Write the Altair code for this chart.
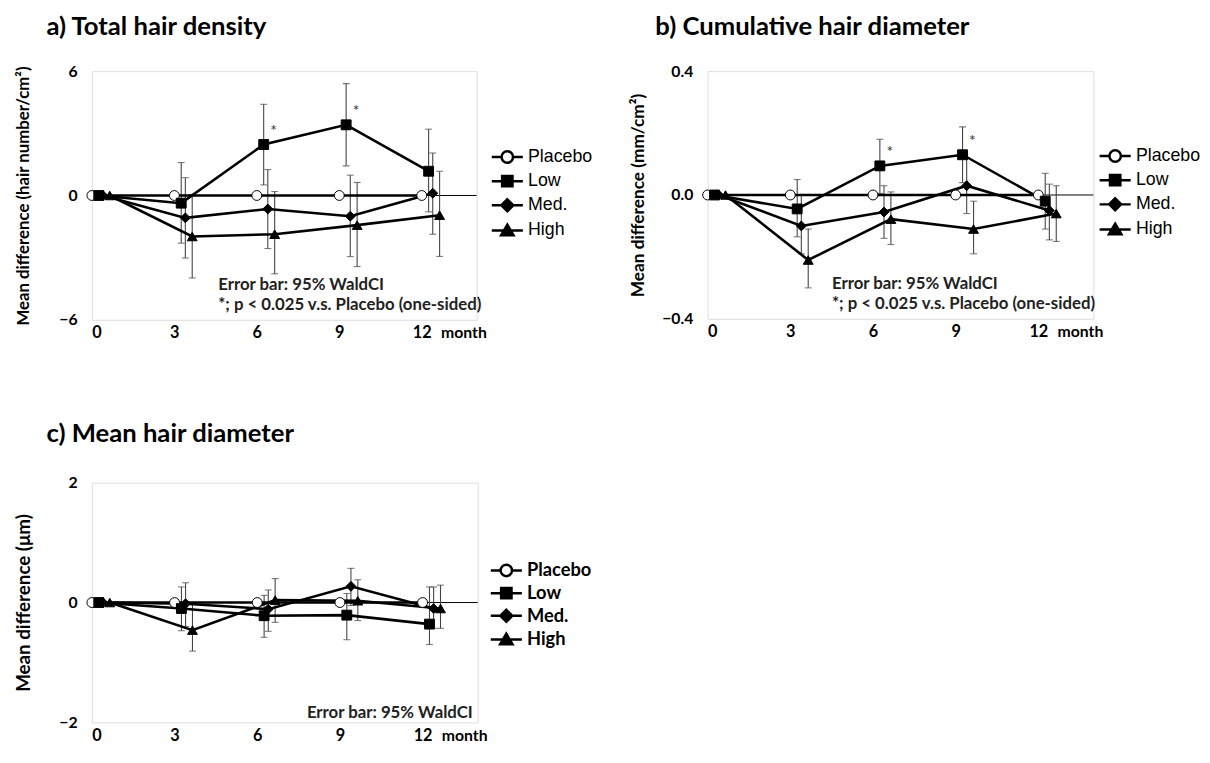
import altair as alt
import pandas as pd

months = [0, 3, 6, 9, 12]
series = ["Placebo", "Low", "Med.", "High"]
x_offsets = [0.0, 0.25, 0.4, 0.65]
fills = ["white", "black", "black", "black"]
shapes = ["circle", "square", "diamond", "triangle-up"]

# ---- a) Total hair density
a_placebo = [0, 0, 0, 0, 0]
a_low = [0, -0.37, 2.46, 3.41, 1.17]
a_low_lo = [None, -2.30, 0.51, 1.43, -0.79]
a_low_hi = [None, 1.59, 4.40, 5.40, 3.20]
a_med = [0, -1.08, -0.65, -1.0, 0.11]
a_med_lo = [None, -3.02, -2.56, -2.95, -1.87]
a_med_hi = [None, 0.86, 1.25, 0.98, 2.05]
a_high = [0, -1.98, -1.87, -1.43, -0.95]
a_high_lo = [None, -3.98, -3.78, -3.43, -2.94]
a_high_hi = [None, 0.05, 0.19, 0.63, 1.17]
a_low_star = [0, 0, 1, 1, 0]

# ---- b) Cumulative hair diameter
b_placebo = [0, 0, 0, 0, 0]
b_low = [0, -0.045, 0.094, 0.13, -0.02]
b_low_lo = [None, -0.135, 0.005, 0.04, -0.11]
b_low_hi = [None, 0.05, 0.18, 0.22, 0.07]
b_med = [0, -0.10, -0.055, 0.03, -0.05]
b_med_lo = [None, -0.19, -0.14, -0.06, -0.145]
b_med_hi = [None, 0.0, 0.03, 0.12, 0.035]
b_high = [0, -0.21, -0.078, -0.11, -0.06]
b_high_lo = [None, -0.30, -0.16, -0.19, -0.15]
b_high_hi = [None, -0.11, 0.01, -0.02, 0.03]
b_low_star = [0, 0, 1, 1, 0]

# ---- c) Mean hair diameter
c_placebo = [0, 0, 0, 0, 0]
c_low = [0, -0.10, -0.22, -0.21, -0.36]
c_low_lo = [None, -0.47, -0.58, -0.62, -0.70]
c_low_hi = [None, 0.26, 0.12, 0.15, 0.26]
c_med = [0, -0.02, -0.11, 0.27, -0.10]
c_med_lo = [None, -0.40, -0.48, -0.05, -0.43]
c_med_hi = [None, 0.33, 0.21, 0.57, 0.26]
c_high = [0, -0.46, 0.04, 0.03, -0.10]
c_high_lo = [None, -0.81, -0.33, -0.30, -0.43]
c_high_hi = [None, 0.0, 0.40, 0.38, 0.29]
c_low_star = [0, 0, 0, 0, 0]

none5 = [None] * 5
zero5 = [0] * 5

# legend glyphs: a line with the marker on it
legend_paths = [
    "M-1.5,0L-0.55,0M0.55,0L1.5,0M-0.55,0A0.55,0.55,0,1,0,0.55,0A0.55,0.55,0,1,0,-0.55,0Z",
    "M-1.5,0L1.5,0M-0.5,-0.5L0.5,-0.5L0.5,0.5L-0.5,0.5Z",
    "M-1.5,0L1.5,0M0,-0.58L0.58,0L0,0.58L-0.58,0Z",
    "M-1.5,0L1.5,0M0,-0.56L0.6,0.46L-0.6,0.46Z",
]

FONT = "Lato"
LEG_SIZE = 441  # 21px box


def build(vals, los, his, stars):
    rows = []
    for i, s in enumerate(series):
        for j, m in enumerate(months):
            rows.append(dict(series=s, month=m, xpos=m + x_offsets[i],
                             value=vals[i][j], lo=los[i][j], hi=his[i][j],
                             star=stars[i][j]))
    return pd.DataFrame(rows)


def panel(df, title, title_dx, title_offset, ytitle, ytitle_size, ydom, yvals,
          yfmt, ytitle_pad, notes, w, h, leg_x, leg_y, leg_font, leg_weight,
          leg_size, leg_row_pad):
    xs = alt.Scale(domain=[0, 14], nice=False, zero=False)
    ys = alt.Scale(domain=ydom, nice=False, zero=False)
    xaxis = alt.Axis(values=months, grid=False, ticks=False, domain=False,
                     labelFont=FONT, labelFontSize=16.5, labelFontWeight="bold",
                     labelColor="black", labelPadding=5, labelAngle=0,
                     title="month", titleFont=FONT, titleFontSize=16,
                     titleFontWeight="bold", titleColor="black",
                     titleAlign="left", titleBaseline="alphabetic",
                     titleX=12 / 14 * w + 19, titleY=18)
    yaxis = alt.Axis(values=yvals, format=yfmt, grid=False, ticks=False,
                     domain=False, labelFont=FONT, labelFontSize=16,
                     labelFontWeight="bold", labelColor="black",
                     labelPadding=15, title=ytitle, titleFont=FONT,
                     titleFontSize=ytitle_size, titleFontWeight="bold",
                     titleColor="black", titlePadding=ytitle_pad)
    X = alt.X("xpos:Q", scale=xs, axis=xaxis)

    base = alt.Chart(df)

    zero = base.transform_filter(alt.datum.xpos == 0).mark_rule(
        color="black", strokeWidth=1
    ).encode(y=alt.Y("value:Q", scale=ys, axis=yaxis))

    bars = base.transform_filter("isValid(datum.lo)").mark_rule(
        color="#444", strokeWidth=1.1
    ).encode(x=X, y=alt.Y("lo:Q", scale=ys, axis=yaxis), y2="hi:Q")

    caps = base.transform_filter("isValid(datum.lo)").transform_fold(
        ["lo", "hi"], as_=["end", "yv"]
    ).mark_tick(orient="horizontal", size=7, thickness=1.1, color="#444").encode(
        x=X, y=alt.Y("yv:Q", scale=ys, axis=yaxis))

    lines = base.mark_line(color="black", strokeWidth=2.6).encode(
        x=X, y=alt.Y("value:Q", scale=ys, axis=yaxis),
        detail="series:N", order="month:Q")

    pts = base.mark_point(filled=True, size=100, stroke="black",
                          strokeWidth=1, opacity=1).encode(
        x=X, y=alt.Y("value:Q", scale=ys, axis=yaxis),
        shape=alt.Shape("series:N", scale=alt.Scale(domain=series, range=shapes),
                        legend=None),
        fill=alt.Fill("series:N", scale=alt.Scale(domain=series, range=fills),
                      legend=None))

    leg = alt.Legend(orient="none", legendX=leg_x, legendY=leg_y, title=None,
                     labelFont=leg_font, labelFontWeight=leg_weight,
                     labelFontSize=leg_size, labelColor="black",
                     symbolSize=LEG_SIZE, symbolStrokeColor="black",
                     symbolStrokeWidth=2.5, labelOffset=9,
                     rowPadding=leg_row_pad, symbolOpacity=1, padding=0)
    legend_layer = base.transform_filter("false").mark_point(
        filled=True, strokeWidth=2.5, size=LEG_SIZE).encode(
        x=X, y=alt.Y("value:Q", scale=ys, axis=yaxis),
        shape=alt.Shape("series:N", scale=alt.Scale(domain=series, range=legend_paths),
                        legend=leg),
        fill=alt.Fill("series:N", scale=alt.Scale(domain=series, range=fills),
                      legend=leg),
        stroke=alt.Stroke("series:N",
                          scale=alt.Scale(domain=series, range=["black"] * 4),
                          legend=leg))

    stars = base.transform_filter(alt.datum.star == 1).mark_text(
        text="*", dx=10, dy=-14, fontSize=16, font=FONT, color="#333"
    ).encode(x=X, y=alt.Y("value:Q", scale=ys, axis=yaxis))

    note_layers = []
    for (txt, nx, ny, al) in notes:
        note_layers.append(
            alt.Chart(pd.DataFrame({"t": [txt]})).mark_text(
                align=al, baseline="alphabetic", font=FONT, fontSize=17,
                fontWeight="bold", color="#222"
            ).encode(text="t:N", x=alt.value(nx), y=alt.value(ny))
        )

    return alt.layer(zero, bars, caps, lines, pts, legend_layer, stars,
                     *note_layers).resolve_scale(
        shape="independent", fill="independent", stroke="independent"
    ).properties(
        width=w, height=h,
        title=alt.TitleParams(title, anchor="start", frame="group", dx=title_dx,
                              font=FONT, fontSize=26, fontWeight="bold",
                              color="black", offset=title_offset),
    )


df_a = build([a_placebo, a_low, a_med, a_high],
             [none5, a_low_lo, a_med_lo, a_high_lo],
             [none5, a_low_hi, a_med_hi, a_high_hi],
             [zero5, a_low_star, zero5, zero5])
df_b = build([b_placebo, b_low, b_med, b_high],
             [none5, b_low_lo, b_med_lo, b_high_lo],
             [none5, b_low_hi, b_med_hi, b_high_hi],
             [zero5, b_low_star, zero5, zero5])
df_c = build([c_placebo, c_low, c_med, c_high],
             [none5, c_low_lo, c_med_lo, c_high_lo],
             [none5, c_low_hi, c_med_hi, c_high_hi],
             [zero5, c_low_star, zero5, zero5])

WA, HA = 390, 252
WB, HB = 391, 251
WC, HC = 391, 243

pa = panel(df_a, "a) Total hair density", -46, 24,
           "Mean difference (hair number/cm²)", 17, [-6, 6], [-6, 0, 6], "d", 27,
           [("Error bar: 95% WaldCI", 128, HA - 30, "left"),
            ("*; p < 0.025 v.s. Placebo (one-sided)", 128, HA - 10, "left")],
           WA, HA, WA + 19, 75, "Liberation Sans", "normal", 18, 1.5)
pb = panel(df_b, "b) Cumulative hair diameter", -53, 24,
           "Mean difference (mm/cm²)", 17.5, [-0.4, 0.4], [-0.4, 0, 0.4], ".1f", 14,
           [("Error bar: 95% WaldCI", 126, HB - 30, "left"),
            ("*; p < 0.025 v.s. Placebo (one-sided)", 126, HB - 10, "left")],
           WB, HB, WB + 10, 74, "Liberation Sans", "normal", 18, 1.5)
pc = panel(df_c, "c) Mean hair diameter", -46, 28,
           "Mean difference (μm)", 19, [-2, 2], [-2, 0, 2], "d", 26,
           [("Error bar: 95% WaldCI", WC - 5, HC - 4, "right")],
           WC, HC, WC + 17, 77, FONT, "bold", 18.5, 0)

chart = alt.vconcat(
    alt.hconcat(pa, pb, spacing=35),
    pc,
    spacing=80,
).configure_view(stroke="black", strokeWidth=1).properties(
    padding={"left": 5, "top": 0, "right": 0, "bottom": 5}
).configure(background="white")

chart.save("out.html", embed_options={"renderer": "svg", "actions": False})
